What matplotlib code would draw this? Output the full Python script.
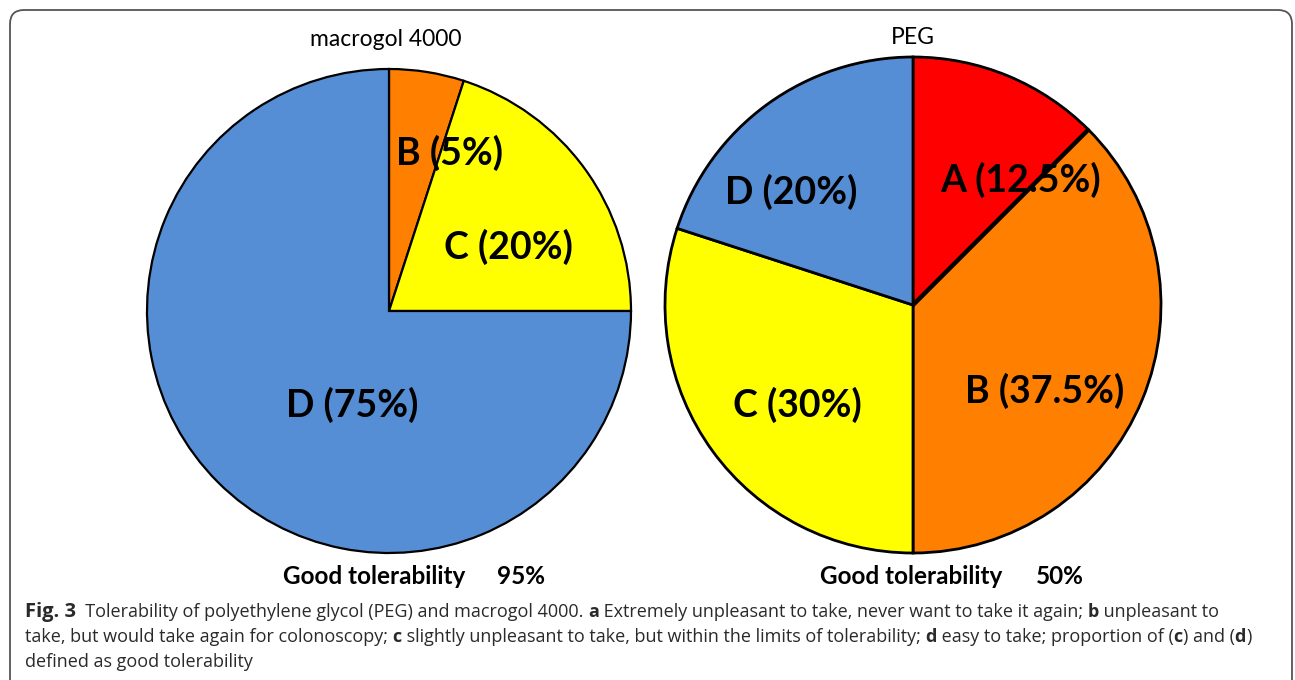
import matplotlib

matplotlib.use("Agg")
import matplotlib.pyplot as plt
import numpy as np
from matplotlib.patches import FancyBboxPatch

# data (percent of patients per tolerability grade)
macrogol_labels = ["B", "C", "D"]
macrogol_values = [5, 20, 75]
peg_labels = ["A", "B", "C", "D"]
peg_values = [12.5, 37.5, 30, 20]
good_tolerability = {"macrogol 4000": 95, "PEG": 50}

grade_colors = {"A": "#ff0000", "B": "#ff8000", "C": "#ffff00", "D": "#558ed5"}

W, H = 1295, 680
fig = plt.figure(figsize=(W / 100, H / 100), dpi=100)
ax = fig.add_axes([0, 0, 1, 1])

LABEL_FONT = "Lato"
CAPTION_FONT = "Open Sans"

# rounded frame around the whole figure
ax.add_patch(
    FancyBboxPatch((10, -40), 1282, 710, boxstyle="round,pad=0,rounding_size=14",
                   facecolor="none", edgecolor="#555555", linewidth=1.3)
)


def draw_pie(values, labels, center, radius, lw):
    wedges, _ = ax.pie(
        values,
        colors=[grade_colors[l] for l in labels],
        startangle=90,
        counterclock=False,
        center=center,
        radius=radius,
        wedgeprops=dict(edgecolor="black", linewidth=lw),
        frame=True,
    )
    return wedges


draw_pie(macrogol_values, macrogol_labels, (389, H - 311), 242, 1.6)
draw_pie(peg_values, peg_labels, (913, H - 305), 248, 2.0)
ax.set_xlim(0, W)
ax.set_ylim(0, H)
ax.set_aspect("equal")
ax.axis("off")

# thicker boundary between A and B on the PEG pie
theta = np.deg2rad(90 - 360 * peg_values[0] / 100)
cx, cy = 913, H - 305
ax.plot([cx, cx + 248 * np.cos(theta)], [cy, cy + 248 * np.sin(theta)],
        color="black", linewidth=3.2, solid_capstyle="butt")

lab_kw = dict(fontsize=27, fontweight="bold", family=LABEL_FONT, ha="center", va="center", color="black")


def pct(v):
    return f"{v:g}%"


macro_pos = {"B": (450, 153), "C": (508, 247), "D": (352, 405)}
for lab, v in zip(macrogol_labels, macrogol_values):
    x, y = macro_pos[lab]
    ax.text(x, H - y, f"{lab} ({pct(v)})", **lab_kw)

peg_pos = {"A": (1021, 180), "B": (1045, 391), "C": (797, 405), "D": (791, 192)}
for lab, v in zip(peg_labels, peg_values):
    x, y = peg_pos[lab]
    ax.text(x, H - y, f"{lab} ({pct(v)})", **lab_kw)

ax.text(386, H - 40, "macrogol 4000", fontsize=16.5, family=LABEL_FONT, ha="center", va="center")
ax.text(913, H - 38, "PEG", fontsize=16.5, family=LABEL_FONT, ha="center", va="center")

good_kw = dict(fontsize=17.5, fontweight="bold", family=LABEL_FONT, ha="center", va="center")
ax.text(374, H - 577, "Good tolerability", **good_kw)
ax.text(521, H - 577, f"{good_tolerability['macrogol 4000']}%", **good_kw)
ax.text(911, H - 577, "Good tolerability", **good_kw)
ax.text(1060, H - 577, f"{good_tolerability['PEG']}%", **good_kw)

# caption with inline bold pieces
caption_lines = [
    [("Fig. 3", True), ("  Tolerability of polyethylene glycol (PEG) and macrogol 4000. ", False),
     ("a", True), (" Extremely unpleasant to take, never want to take it again; ", False),
     ("b", True), (" unpleasant to", False)],
    [("take, but would take again for colonoscopy; ", False), ("c", True),
     (" slightly unpleasant to take, but within the limits of tolerability; ", False),
     ("d", True), (" easy to take; proportion of (", False), ("c", True), (") and (", False),
     ("d", True), (")", False)],
    [("defined as good tolerability", False)],
]
caption_y = [612, 637, 662]

fig.canvas.draw()
renderer = fig.canvas.get_renderer()
for segs, y in zip(caption_lines, caption_y):
    x = 25
    for i, (s, bold) in enumerate(segs):
        size = 14.5 if (i == 0 and s.startswith("Fig")) else 13.0
        t = ax.text(x, H - y, s, fontsize=size, family=CAPTION_FONT, color="#2a2a2a",
                    fontweight="bold" if bold else "normal", ha="left", va="center")
        bb = t.get_window_extent(renderer)
        x += bb.width

fig.savefig("out.png", dpi=100)
